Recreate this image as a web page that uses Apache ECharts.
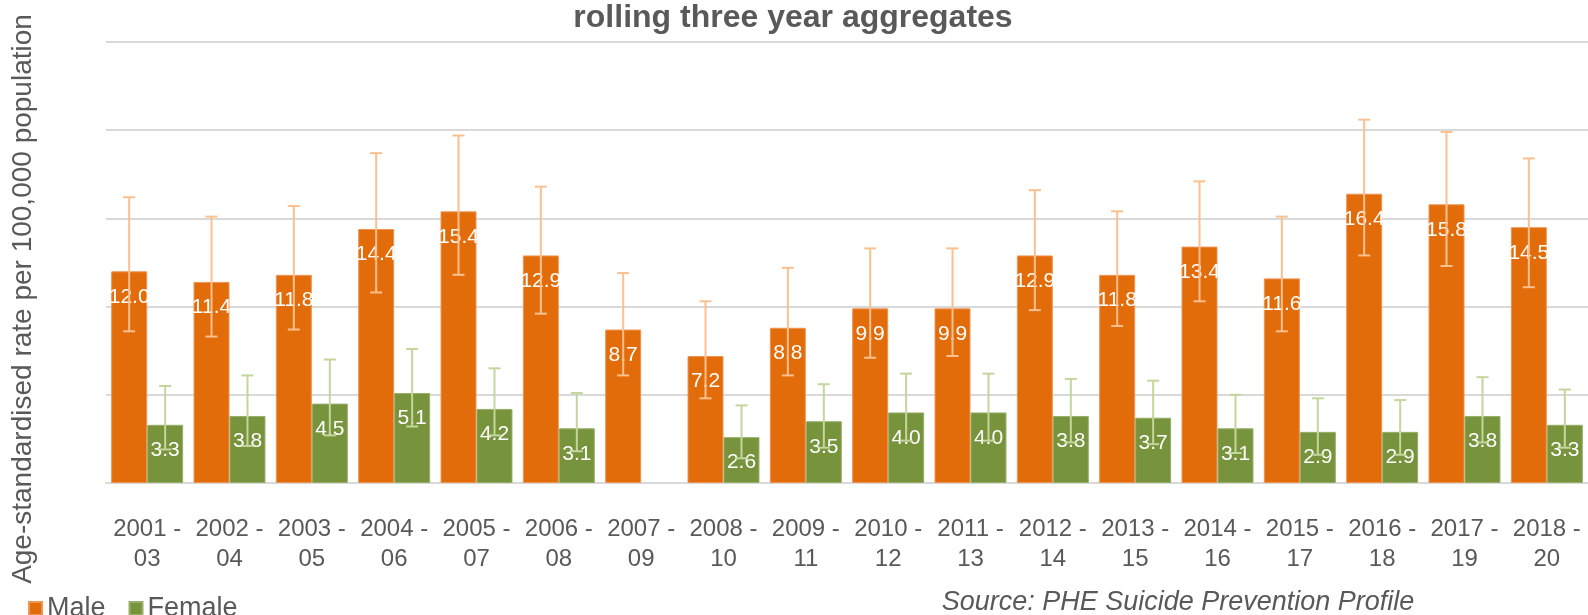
<!DOCTYPE html>
<html><head><meta charset="utf-8">
<script src="https://cdn.jsdelivr.net/npm/echarts@6/dist/echarts.min.js"></script>
<style>html,body{margin:0;padding:0;background:#fff}#c{width:1588px;height:615px}</style>
</head><body><div id="c"></div>
<script>
const categories = ['2001 - 03','2002 - 04','2003 - 05','2004 - 06','2005 - 07','2006 - 08','2007 - 09','2008 - 10','2009 - 11','2010 - 12','2011 - 13','2012 - 14','2013 - 15','2014 - 16','2015 - 17','2016 - 18','2017 - 19','2018 - 20'];
const male = [12.0,11.4,11.8,14.4,15.4,12.9,8.7,7.2,8.8,9.9,9.9,12.9,11.8,13.4,11.6,16.4,15.8,14.5];
const female = [3.3,3.8,4.5,5.1,4.2,3.1,null,2.6,3.5,4.0,4.0,3.8,3.7,3.1,2.9,2.9,3.8,3.3];
const maleLow = [8.6,8.3,8.7,10.8,11.8,9.6,6.1,4.8,6.1,7.1,7.2,9.8,8.9,10.3,8.6,12.9,12.3,11.1];
const maleHigh = [16.2,15.1,15.7,18.7,19.7,16.8,11.9,10.3,12.2,13.3,13.3,16.6,15.4,17.1,15.1,20.6,19.9,18.4];
const femaleLow = [1.9,2.1,2.7,3.2,2.7,1.8,null,1.4,2.0,2.4,2.4,2.3,2.2,1.7,1.6,1.6,2.3,2.0];
const femaleHigh = [5.5,6.1,7.0,7.6,6.5,5.1,null,4.4,5.6,6.2,6.2,5.9,5.8,5.0,4.8,4.7,6.0,5.3];
const yTicks = [0,5,10,15,20,25];

const GAP = 0.126;
const FONT = 'Liberation Sans, Arial, sans-serif';
const TXT = '#595959';

function errItem(sign, color){
  return function(params, api){
    const lo = api.value(1), hi = api.value(2);
    if (lo === null || hi === null || isNaN(lo) || isNaN(hi)) return;
    const band = api.size([1,0])[0];
    const bw = band*(1-GAP)/2;
    const pl = api.coord([api.value(0), lo]);
    const ph = api.coord([api.value(0), hi]);
    const cx = pl[0] + sign*bw/2;
    const cap = 6;
    const st = {stroke: color, lineWidth: 2};
    return {type:'group', children:[
      {type:'line', shape:{x1:cx,y1:pl[1],x2:cx,y2:ph[1]}, style:st},
      {type:'line', shape:{x1:cx-cap,y1:pl[1],x2:cx+cap,y2:pl[1]}, style:st},
      {type:'line', shape:{x1:cx-cap,y1:ph[1],x2:cx+cap,y2:ph[1]}, style:st}
    ]};
  };
}

const chart = echarts.init(document.getElementById('c'), null, {renderer:'canvas'});
const labelCfg = {show:true, position:'insideTop', distance:15, color:'#fff', fontSize:21, fontFamily:FONT,
  formatter: p => p.value == null ? '' : Number(p.value).toFixed(1)};
chart.setOption({
  animation:false,
  textStyle:{fontFamily:FONT},
  grid:{left:106, right:0, top:42, bottom:132, containLabel:false},
  legend:{left:23, top:590, itemWidth:13, itemHeight:13, itemGap:23, icon:'rect',
    textStyle:{fontSize:27, color:TXT, fontFamily:FONT}, data:['Male','Female']},
  graphic:[
    {type:'text', x:793, y:2, style:{text:'rolling three year aggregates', fontSize:32, fontWeight:'bold', fontFamily:FONT, fill:TXT, textAlign:'center', textVerticalAlign:'top'}},
    {type:'text', x:23, y:299, rotation:Math.PI/2, style:{text:'Age-standardised rate per 100,000 population', fontSize:28, fontFamily:FONT, fill:TXT, textAlign:'center', textVerticalAlign:'middle'}},
    {type:'text', x:1178, y:602, style:{text:'Source: PHE Suicide Prevention Profile', fontSize:27, fontStyle:'italic', fontFamily:FONT, fill:TXT, textAlign:'center', textVerticalAlign:'middle'}}
  ],
  xAxis:{type:'category', data:categories,
    axisLine:{lineStyle:{color:'#D9D9D9', width:2}}, axisTick:{show:false},
    axisLabel:{interval:0, color:TXT, fontSize:24, fontFamily:FONT, margin:31, lineHeight:30,
      formatter: v => v.replace(' - ', ' -\n')}},
  yAxis:{type:'value', min:yTicks[0], max:yTicks[yTicks.length-1], interval:yTicks[1]-yTicks[0],
    axisLabel:{show:false}, axisLine:{show:false}, axisTick:{show:false},
    splitLine:{lineStyle:{color:'#D9D9D9', width:2}}},
  series:[
    {name:'Male', type:'bar', data:male, barGap:'0%', barCategoryGap:(GAP*100)+'%', z:2,
      itemStyle:{color:'#E36C0A', borderColor:'#EE9454', borderWidth:1}, label:labelCfg},
    {name:'Female', type:'bar', data:female, z:2,
      itemStyle:{color:'#77933C', borderColor:'#98AE6A', borderWidth:1}, label:labelCfg},
    {name:'MaleErr', type:'custom', z:5, renderItem:errItem(-1,'#FAC090'),
      data: categories.map((c,i)=>[i, maleLow[i], maleHigh[i]]), encode:{x:0,y:[1,2]}},
    {name:'FemaleErr', type:'custom', z:5, renderItem:errItem(1,'#C3D69B'),
      data: categories.map((c,i)=>[i, femaleLow[i], femaleHigh[i]]), encode:{x:0,y:[1,2]}}
  ]
});
</script></body></html>
